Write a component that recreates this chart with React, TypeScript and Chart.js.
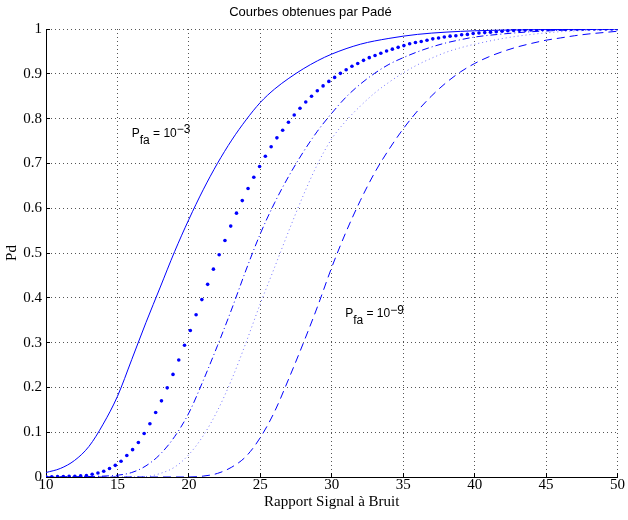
import React, { useEffect, useRef } from 'react';
import { Chart, registerables } from 'chart.js';

Chart.register(...registerables);

const TITLE = 'Courbes obtenues par Padé';
const X_LABEL = 'Rapport Signal à Bruit';
const Y_LABEL = 'Pd';

// Solid curve (Pfa = 1e-3)
const solidX = [10, 11, 12, 13, 14, 15, 16, 17, 18, 19, 20, 21, 22, 23, 24, 25, 26, 27, 28, 29, 30, 32, 34, 36, 38, 40, 43, 46, 50];
const solidY = [0.010, 0.019, 0.037, 0.068, 0.118, 0.180, 0.262, 0.345, 0.424, 0.503, 0.575, 0.641, 0.700, 0.752, 0.797, 0.836, 0.866, 0.890, 0.911, 0.929, 0.944, 0.966, 0.979, 0.988, 0.993, 0.996, 0.998, 0.999, 1.0];

// Big-dot markers, sampled on the 100-point SNR grid from 10 to 50
const dotCount = 100;
const dotY = [
  0.0005, 0.0006, 0.0008, 0.001, 0.0013, 0.0018, 0.0025, 0.0035, 0.006, 0.009,
  0.013, 0.019, 0.026, 0.035, 0.048, 0.061, 0.077, 0.097, 0.119, 0.144,
  0.170, 0.199, 0.229, 0.261, 0.294, 0.327, 0.362, 0.396, 0.430, 0.464,
  0.496, 0.528, 0.560, 0.589, 0.617, 0.644, 0.669, 0.693, 0.716, 0.737,
  0.757, 0.774, 0.792, 0.808, 0.823, 0.837, 0.850, 0.862, 0.873, 0.883,
  0.892, 0.901, 0.909, 0.917, 0.923, 0.930, 0.936, 0.941, 0.946, 0.951,
  0.955, 0.959, 0.963, 0.967, 0.970, 0.972, 0.975, 0.978, 0.980, 0.982,
  0.984, 0.985, 0.987, 0.988, 0.990, 0.991, 0.992, 0.993, 0.994, 0.995,
  0.996, 0.9965, 0.997, 0.9975, 0.998, 0.9985, 0.999, 0.999, 0.9993, 0.9995,
  0.9996, 0.9997, 0.9998, 0.9998, 0.9999, 0.9999, 0.9999, 1.0, 1.0, 1.0,
];
const dotX = Array.from({ length: dotCount }, (_, i) => 10 + (i * 40) / (dotCount - 1));

// Dash-dot curve
const dashDotX = [10, 12, 14, 15, 16, 17, 18, 19, 20, 21, 22, 23, 24, 25, 26, 27, 28, 29, 30, 31, 32, 33, 34, 35, 36, 37, 38, 39, 40, 42, 44, 46, 48, 50];
const dashDotY = [0.0, 0.0005, 0.002, 0.004, 0.010, 0.025, 0.051, 0.090, 0.143, 0.215, 0.293, 0.375, 0.462, 0.543, 0.612, 0.672, 0.725, 0.772, 0.812, 0.848, 0.877, 0.901, 0.921, 0.936, 0.949, 0.960, 0.969, 0.976, 0.982, 0.989, 0.994, 0.997, 0.999, 1.0];

// Fine dotted curve
const fineDotX = [10, 16, 17, 18, 19, 20, 21, 22, 23, 24, 25, 26, 27, 28, 29, 30, 31, 32, 33, 34, 35, 36, 37, 38, 39, 40, 42, 44, 46, 48, 50];
const fineDotY = [0.0, 0.0003, 0.001, 0.008, 0.022, 0.050, 0.092, 0.148, 0.218, 0.300, 0.387, 0.468, 0.550, 0.628, 0.698, 0.755, 0.795, 0.828, 0.857, 0.881, 0.902, 0.920, 0.935, 0.948, 0.958, 0.966, 0.979, 0.988, 0.994, 0.997, 0.999];

// Dashed curve (Pfa = 1e-9)
const dashedX = [10, 20, 21, 22, 23, 24, 25, 26, 27, 28, 29, 30, 31, 32, 33, 34, 35, 36, 37, 38, 39, 40, 41, 42, 43, 44, 45, 46, 47, 48, 49, 50];
const dashedY = [0.0, 0.0, 0.002, 0.008, 0.022, 0.046, 0.088, 0.146, 0.220, 0.298, 0.380, 0.468, 0.547, 0.617, 0.679, 0.731, 0.777, 0.817, 0.851, 0.880, 0.904, 0.923, 0.938, 0.950, 0.960, 0.968, 0.975, 0.980, 0.985, 0.989, 0.992, 0.995];

// Annotations (data coordinates of the text baseline start)
const noteX = [16.0, 30.94];
const noteY = [0.76, 0.357];
const noteExp = ['\u22123', '\u22129'];

const BLUE = '#0000ff';
const SERIF = "'Liberation Serif', 'DejaVu Serif', serif";
const SANS = "'Liberation Sans', Arial, sans-serif";

const pts = (xs: number[], ys: number[]) => xs.map((x, i) => ({ x, y: ys[i] }));

const notePlugin = {
  id: 'pfaNotes',
  afterDatasetsDraw(chart: any) {
    const { ctx, scales } = chart;
    const xs = scales.x;
    const ys = scales.y;
    ctx.save();
    ctx.fillStyle = '#000';
    ctx.textBaseline = 'alphabetic';
    ctx.textAlign = 'left';
    ctx.font = `12px ${SANS}`;
    for (let k = 0; k < noteX.length; k++) {
      let px = xs.getPixelForValue(noteX[k]);
      const py = ys.getPixelForValue(noteY[k]);
      const parts = [
        { t: 'P', dy: 0 },
        { t: 'fa', dy: 7 },
        { t: ' = 10', dy: 0 },
        { t: noteExp[k], dy: -3.5 },
      ];
      for (const p of parts) {
        ctx.fillText(p.t, px, py + p.dy);
        px += ctx.measureText(p.t).width;
      }
    }
    ctx.restore();
  },
};

export default function App() {
  const ref = useRef<HTMLCanvasElement>(null);
  useEffect(() => {
    const canvas = ref.current;
    if (!canvas) return;
    const chart = new Chart(canvas, {
      type: 'line',
      data: {
        datasets: [
          {
            label: 'solid',
            data: pts(solidX, solidY),
            borderColor: BLUE,
            borderWidth: 1,
            pointRadius: 0,
            cubicInterpolationMode: 'monotone',
            fill: false,
          },
          {
            label: 'dots',
            data: pts(dotX, dotY),
            showLine: false,
            pointRadius: 1.8,
            pointBorderWidth: 0,
            pointBackgroundColor: BLUE,
            borderColor: BLUE,
            backgroundColor: BLUE,
          },
          {
            label: 'dashdot',
            data: pts(dashDotX, dashDotY),
            borderColor: BLUE,
            borderWidth: 1,
            borderDash: [7, 3, 1, 3],
            pointRadius: 0,
            cubicInterpolationMode: 'monotone',
            fill: false,
          },
          {
            label: 'fine',
            data: pts(fineDotX, fineDotY),
            borderColor: 'rgba(0,0,255,0.55)',
            borderWidth: 1,
            borderDash: [1, 3],
            pointRadius: 0,
            cubicInterpolationMode: 'monotone',
            fill: false,
          },
          {
            label: 'dashed',
            data: pts(dashedX, dashedY),
            borderColor: BLUE,
            borderWidth: 1,
            borderDash: [8, 5],
            pointRadius: 0,
            cubicInterpolationMode: 'monotone',
            fill: false,
          },
        ],
      },
      options: {
        responsive: false,
        animation: false,
        devicePixelRatio: 1,
        events: [],
        layout: { padding: { left: 0, right: 7, top: 0, bottom: 0 } },
        plugins: {
          legend: { display: false },
          tooltip: { enabled: false },
          title: {
            display: true,
            text: TITLE,
            color: '#000',
            font: { family: SANS, size: 13, weight: 'normal' },
            padding: { top: 5, bottom: 8.4 },
          },
        },
        scales: {
          x: {
            type: 'linear',
            min: 10,
            max: 50,
            ticks: {
              stepSize: 5,
              color: '#000',
              font: { family: SERIF, size: 15 },
              padding: 3,
              maxRotation: 0,
              autoSkip: false,
            },
            grid: {
              color: '#555',
              lineWidth: 1,
              drawTicks: true,
              tickLength: -4,
              tickColor: '#000',
              tickWidth: 1,
            },
            border: { display: true, color: '#000', width: 1, dash: [1, 3] },
            title: {
              display: true,
              text: X_LABEL,
              color: '#000',
              font: { family: SERIF, size: 15 },
              padding: { top: 0, bottom: 9 },
            },
            afterFit: (s: any) => {
              s.height = 43;
            },
          },
          y: {
            type: 'linear',
            min: 0,
            max: 1,
            ticks: {
              stepSize: 0.1,
              color: '#000',
              font: { family: SERIF, size: 15 },
              padding: 8,
              callback: (v: any) => String(Math.round(Number(v) * 10) / 10),
            },
            grid: {
              color: '#555',
              lineWidth: 1,
              drawTicks: true,
              tickLength: -4,
              tickColor: '#000',
              tickWidth: 1,
            },
            border: { display: true, color: '#000', width: 1, dash: [1, 3] },
            title: {
              display: true,
              text: Y_LABEL,
              color: '#000',
              font: { family: SERIF, size: 15 },
              padding: { top: 3, bottom: 0 },
            },
            afterFit: (s: any) => {
              s.width = 46;
            },
          },
        },
      } as any,
      plugins: [notePlugin],
    });
    return () => chart.destroy();
  }, []);

  return (
    <div style={{ position: 'absolute', left: 0, top: 0, width: 628, height: 520, background: '#fff' }}>
      <canvas ref={ref} width={628} height={520} style={{ display: 'block', width: 628, height: 520 }} />
    </div>
  );
}
